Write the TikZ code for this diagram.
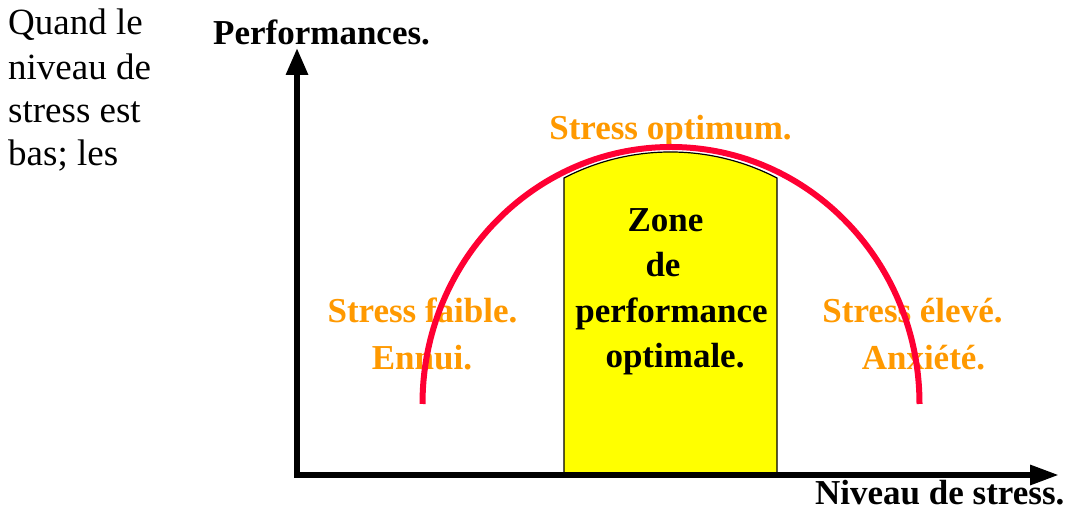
\documentclass[tikz,border=0pt]{standalone}
\usepackage{fontspec}
\setmainfont{Liberation Serif}
\usetikzlibrary{arrows.meta}
\definecolor{curvered}{HTML}{FF0033}
\definecolor{labelorange}{HTML}{FF9900}
\definecolor{zoneyellow}{HTML}{FFFF00}
\begin{document}
\begin{tikzpicture}[x=1pt,y=1pt,
  axis/.style={line width=6pt,black,line join=miter},
  bigbold/.style={font=\fontsize{35}{42}\selectfont\bfseries,inner sep=0pt,anchor=base},
  orangelabel/.style={bigbold,text=labelorange},
  zonelabel/.style={bigbold,text=black},
  sidetext/.style={font=\fontsize{37}{44}\selectfont,inner sep=0pt,anchor=base west}]
\useasboundingbox (0,0) rectangle (1069,511);

% left margin text
\node[sidetext] (s1) at (8,476) {Quand le};
\node[sidetext] (s2) at (8,431) {niveau de};
\node[sidetext] (s3) at (8,388) {stress est};
\node[sidetext] (s4) at (8,345) {bas; les};

% zone of optimal performance
\draw[line width=1.2pt,fill=zoneyellow]
  (564,36) -- (564,333) arc[start angle=117.45,end angle=62.55,radius=231]
  -- (777,36) -- cycle;
\node[zonelabel] (z1) at (665.5,279) {Zone};
\node[zonelabel] (z2) at (663,234) {de};
\node[zonelabel] (z3) at (671.5,188) {performance};
\node[zonelabel] (z4) at (675,143) {optimale.};

% region labels
\node[orangelabel] (opt) at (670.5,371) {Stress optimum.};
\node[orangelabel] (low1) at (422.5,188) {Stress faible.};
\node[orangelabel] (low2) at (422,141) {Ennui.};
\node[orangelabel] (high1) at (912.5,188) {Stress élevé.};
\node[orangelabel] (high2) at (923.5,141) {Anxiété.};

% performance curve
\draw[curvered,line width=6pt] (422.5,107)
  arc[start angle=180,end angle=0,x radius=248.5,y radius=257];

% axes
\coordinate (ytip) at (297,463);
\coordinate (origin) at (297,36);
\coordinate (xtip) at (1059,36);
\draw[axis,{Triangle[length=27pt,width=21pt]}-{Triangle[length=29pt,width=19pt]}]
  (ytip) -- (origin) -- (xtip);

% axis titles
\node[bigbold,anchor=base west] (ylab) at (213,466) {Performances.};
\node[bigbold,anchor=base west] (xlab) at (815,6) {Niveau de stress.};
\end{tikzpicture}
\end{document}
